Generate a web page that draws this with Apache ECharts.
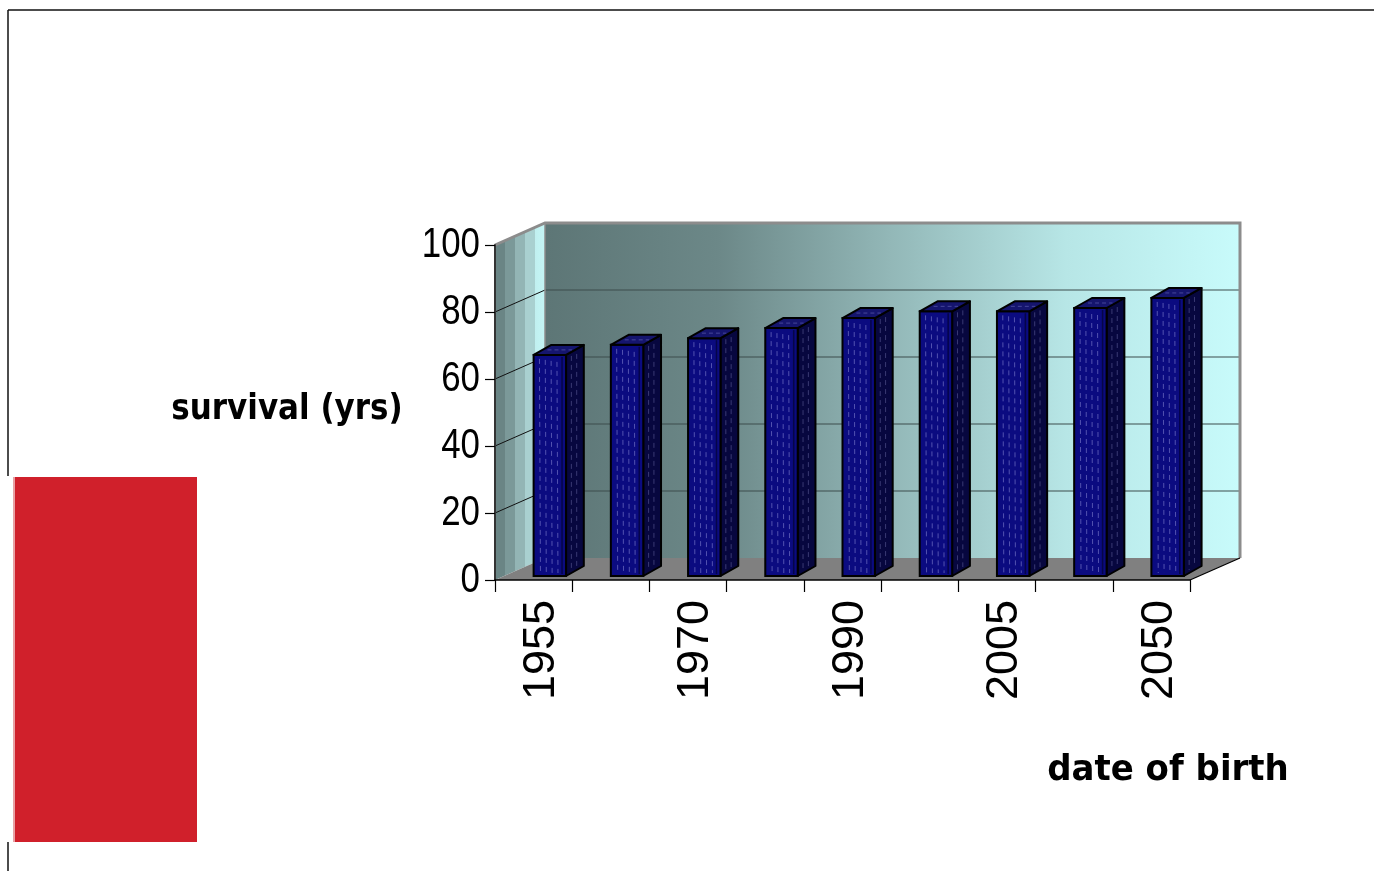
<!DOCTYPE html>
<html>
<head>
<meta charset="utf-8">
<title>survival by date of birth</title>
<script src="https://cdn.jsdelivr.net/npm/echarts@6/dist/echarts.min.js"></script>
<style>
  html, body { margin: 0; padding: 0; background: #ffffff; }
  #chart { width: 1374px; height: 871px; }
</style>
</head>
<body>
<div id="chart"></div>
<script>
// Birth cohorts (only every other one is labelled on the axis)
const categories = ['1955', '1960', '1970', '1980', '1990', '2000', '2005', '2020', '2050'];
// Expected survival in years for each cohort
const survival = [66, 69, 71, 74, 77, 79, 79, 80, 83];
// Value-axis ticks
const yTicks = [0, 20, 40, 60, 80, 100];

// Perspective offset of the back wall relative to the front plane
const DX = 50, DY = -22;

const chart = echarts.init(document.getElementById('chart'), null, { renderer: 'canvas' });

// Floor, side wall, back wall and their gridlines
function renderWalls(params, api) {
  const cs = params.coordSys;
  const x0 = cs.x, x1 = cs.x + cs.width;
  const yBase = api.coord([0, yTicks[0]])[1];
  const yTop = api.coord([0, yTicks[yTicks.length - 1]])[1];
  const children = [];

  // back wall
  children.push({
    type: 'rect',
    shape: { x: x0 + DX, y: yTop + DY, width: x1 - x0, height: yBase - yTop },
    style: {
      fill: new echarts.graphic.LinearGradient(0, 0, 1, 0, [
        { offset: 0, color: '#5d7676' },
        { offset: 0.25, color: '#6c8888' },
        { offset: 0.5, color: '#93b8b8' },
        { offset: 0.75, color: '#b7e6e6' },
        { offset: 1, color: '#c8fbfb' }
      ])
    }
  });
  // side wall
  children.push({
    type: 'polygon',
    shape: { points: [[x0, yBase], [x0, yTop], [x0 + DX, yTop + DY], [x0 + DX, yBase + DY]] },
    style: {
      fill: new echarts.graphic.LinearGradient(0, 0, 1, 0, [
        { offset: 0, color: '#6a8585' },
        { offset: 0.2, color: '#6a8585' },
        { offset: 0.2, color: '#7b9999' },
        { offset: 0.4, color: '#7b9999' },
        { offset: 0.4, color: '#93b5b5' },
        { offset: 0.6, color: '#93b5b5' },
        { offset: 0.6, color: '#a9d0d0' },
        { offset: 0.8, color: '#a9d0d0' },
        { offset: 0.8, color: '#c0efef' },
        { offset: 1, color: '#c4f6f6' }
      ])
    }
  });
  // floor
  children.push({
    type: 'polygon',
    shape: { points: [[x0, yBase], [x1, yBase], [x1 + DX, yBase + DY], [x0 + DX, yBase + DY]] },
    style: { fill: '#808080' }
  });
  // gridlines on the back wall and the side wall
  yTicks.forEach(function (v) {
    if (v === yTicks[0] || v === yTicks[yTicks.length - 1]) return;
    const y = api.coord([0, v])[1];
    children.push({
      type: 'line',
      shape: { x1: x0 + DX, y1: y + DY, x2: x1 + DX, y2: y + DY },
      style: { stroke: '#3c4c4c', lineWidth: 1.2 }
    });
    children.push({
      type: 'line',
      shape: { x1: x0, y1: y, x2: x0 + DX, y2: y + DY },
      style: { stroke: '#111111', lineWidth: 1 }
    });
  });
  // outer rim of the walls
  children.push({
    type: 'polyline',
    shape: { points: [[x0, yTop], [x0 + DX, yTop + DY], [x1 + DX, yTop + DY], [x1 + DX, yBase + DY]] },
    style: { stroke: '#8c8c8c', lineWidth: 3, fill: null }
  });
  children.push({
    type: 'line',
    shape: { x1: x0 + DX, y1: yTop + DY, x2: x0 + DX, y2: yBase + DY },
    style: { stroke: '#8c8c8c', lineWidth: 1.5 }
  });
  // right edge of the floor
  children.push({
    type: 'line',
    shape: { x1: x1, y1: yBase, x2: x1 + DX, y2: yBase + DY },
    style: { stroke: '#000000', lineWidth: 1.2 }
  });
  return { type: 'group', children: children };
}

// One 3D-looking column: front face, side face and lid
function renderBar(params, api) {
  const idx = api.value(0);
  const val = api.value(1);
  const band = api.size([1, 0])[0];
  const base = api.coord([idx, 0]);
  const top = api.coord([idx, val]);
  const lift = 4;
  const fx0 = base[0];
  const fw = band * 0.42;
  const fx1 = fx0 + fw;
  const by = base[1] - lift;
  const ty = top[1] - lift;
  const sdx = band * 0.23, sdy = -10;
  const children = [];

  // side face
  children.push({
    type: 'polygon',
    shape: { points: [[fx1, by], [fx1, ty], [fx1 + sdx, ty + sdy], [fx1 + sdx, by + sdy]] },
    style: { fill: '#07073f', stroke: '#000000', lineWidth: 2, lineJoin: 'round' }
  });
  // front face
  children.push({
    type: 'rect',
    shape: { x: fx0, y: ty, width: fw, height: by - ty },
    style: { fill: '#0b0b80', stroke: '#000000', lineWidth: 2 }
  });
  // lid
  children.push({
    type: 'polygon',
    shape: { points: [[fx0, ty], [fx1, ty], [fx1 + sdx, ty + sdy], [fx0 + sdx, ty + sdy]] },
    style: { fill: '#15156e', stroke: '#000000', lineWidth: 2, lineJoin: 'round' }
  });
  // fine streaks on the front face
  [0.18, 0.36, 0.54, 0.72].forEach(function (f, k) {
    const sx = fx0 + fw * f;
    children.push({
      type: 'line',
      shape: { x1: sx, y1: ty + 4 + k, x2: sx + 1, y2: by - 3 },
      style: { stroke: 'rgba(140,140,215,0.55)', lineWidth: 1, lineDash: [5, 4] }
    });
  });
  // darker stripe near the front right edge
  children.push({
    type: 'line',
    shape: { x1: fx1 - 4, y1: ty + 2, x2: fx1 - 4, y2: by - 2 },
    style: { stroke: '#05054a', lineWidth: 1.5 }
  });
  // streaks on the side face
  [0.3, 0.6].forEach(function (f, k) {
    const sx = fx1 + sdx * f;
    children.push({
      type: 'line',
      shape: { x1: sx, y1: ty + sdy * f + 4 + k, x2: sx, y2: by + sdy * f - 3 },
      style: { stroke: 'rgba(120,120,180,0.45)', lineWidth: 1, lineDash: [5, 4] }
    });
  });
  // streak on the lid
  children.push({
    type: 'line',
    shape: { x1: fx0 + 5 + sdx * 0.5, y1: ty + sdy * 0.5, x2: fx1 - 3 + sdx * 0.5, y2: ty + sdy * 0.5 },
    style: { stroke: 'rgba(120,120,200,0.5)', lineWidth: 1, lineDash: [4, 3] }
  });
  return { type: 'group', children: children };
}

// Value-axis tick labels, set in a narrow face
function renderYLabel(params, api) {
  const v = api.value(1);
  const y = api.coord([0, v])[1];
  return {
    type: 'text',
    x: params.coordSys.x - 15,
    y: y,
    scaleX: 0.83,
    style: {
      x: 0, y: 0,
      text: String(v),
      fill: '#000000',
      font: '42px "Liberation Sans", Arial, sans-serif',
      textAlign: 'right',
      textVerticalAlign: 'middle'
    }
  };
}

// Category labels, every other cohort, reading upwards
function renderXLabel(params, api) {
  const idx = api.value(0);
  if (idx % 2 !== 0) return null;
  const p = api.coord([idx, 0]);
  return {
    type: 'text',
    x: p[0] + 8,
    y: p[1] + 20,
    rotation: Math.PI / 2,
    style: {
      x: 0, y: 0,
      text: categories[idx],
      fill: '#000000',
      font: '45px "Liberation Sans", Arial, sans-serif',
      textAlign: 'right',
      textVerticalAlign: 'middle'
    }
  };
}

const option = {
  animation: false,
  backgroundColor: '#ffffff',
  grid: { left: 495, top: 245, width: 695, height: 335, containLabel: false },
  xAxis: {
    type: 'category',
    data: categories,
    boundaryGap: true,
    axisLine: { show: true, lineStyle: { color: '#000000', width: 1.5 } },
    axisTick: { show: true, interval: 0, length: 12, lineStyle: { color: '#000000', width: 1.2 } },
    axisLabel: { show: false },
    splitLine: { show: false },
    z: 10
  },
  yAxis: {
    type: 'value',
    min: 0,
    max: 100,
    interval: 20,
    axisLine: { show: true, lineStyle: { color: '#333333', width: 2 } },
    axisTick: { show: true, length: 10, lineStyle: { color: '#000000', width: 1.2 } },
    axisLabel: { show: false },
    splitLine: { show: false },
    z: 10
  },
  series: [
    {
      type: 'custom',
      name: 'walls',
      renderItem: renderWalls,
      data: [[0, 0]],
      clip: false,
      silent: true,
      z: 1
    },
    {
      type: 'custom',
      name: 'survival',
      renderItem: renderBar,
      data: survival.map(function (v, i) { return [i, v]; }),
      clip: false,
      z: 5
    },
    {
      type: 'custom',
      name: 'yLabels',
      renderItem: renderYLabel,
      data: yTicks.map(function (v) { return [0, v]; }),
      clip: false,
      silent: true,
      z: 12
    },
    {
      type: 'custom',
      name: 'xLabels',
      renderItem: renderXLabel,
      data: categories.map(function (c, i) { return [i, 0]; }),
      clip: false,
      silent: true,
      z: 12
    }
  ],
  graphic: [
    // slide frame
    { type: 'line', shape: { x1: 8, y1: 10, x2: 1374, y2: 10 }, style: { stroke: '#111111', lineWidth: 1.5 } },
    { type: 'line', shape: { x1: 8, y1: 10, x2: 8, y2: 476 }, style: { stroke: '#111111', lineWidth: 1.5 } },
    { type: 'line', shape: { x1: 8, y1: 842, x2: 8, y2: 871 }, style: { stroke: '#111111', lineWidth: 1.5 } },
    // red block
    { type: 'rect', shape: { x: 13, y: 477, width: 3, height: 365 }, style: { fill: '#e8a0a4' } },
    { type: 'rect', shape: { x: 15, y: 477, width: 182, height: 365 }, style: { fill: '#d0202b' } },
    // axis titles
    {
      type: 'text',
      x: 287, y: 410,
      scaleY: 1.15,
      style: {
        x: 0, y: 0, text: 'survival (yrs)',
        font: 'bold 31px "DejaVu Sans", sans-serif',
        fill: '#000000', textAlign: 'center', textVerticalAlign: 'middle'
      }
    },
    {
      type: 'text',
      x: 1168, y: 771,
      scaleY: 1.05,
      style: {
        x: 0, y: 0, text: 'date of birth',
        font: 'bold 34px "DejaVu Sans", sans-serif',
        fill: '#000000', textAlign: 'center', textVerticalAlign: 'middle'
      }
    }
  ]
};

chart.setOption(option);
</script>
</body>
</html>
